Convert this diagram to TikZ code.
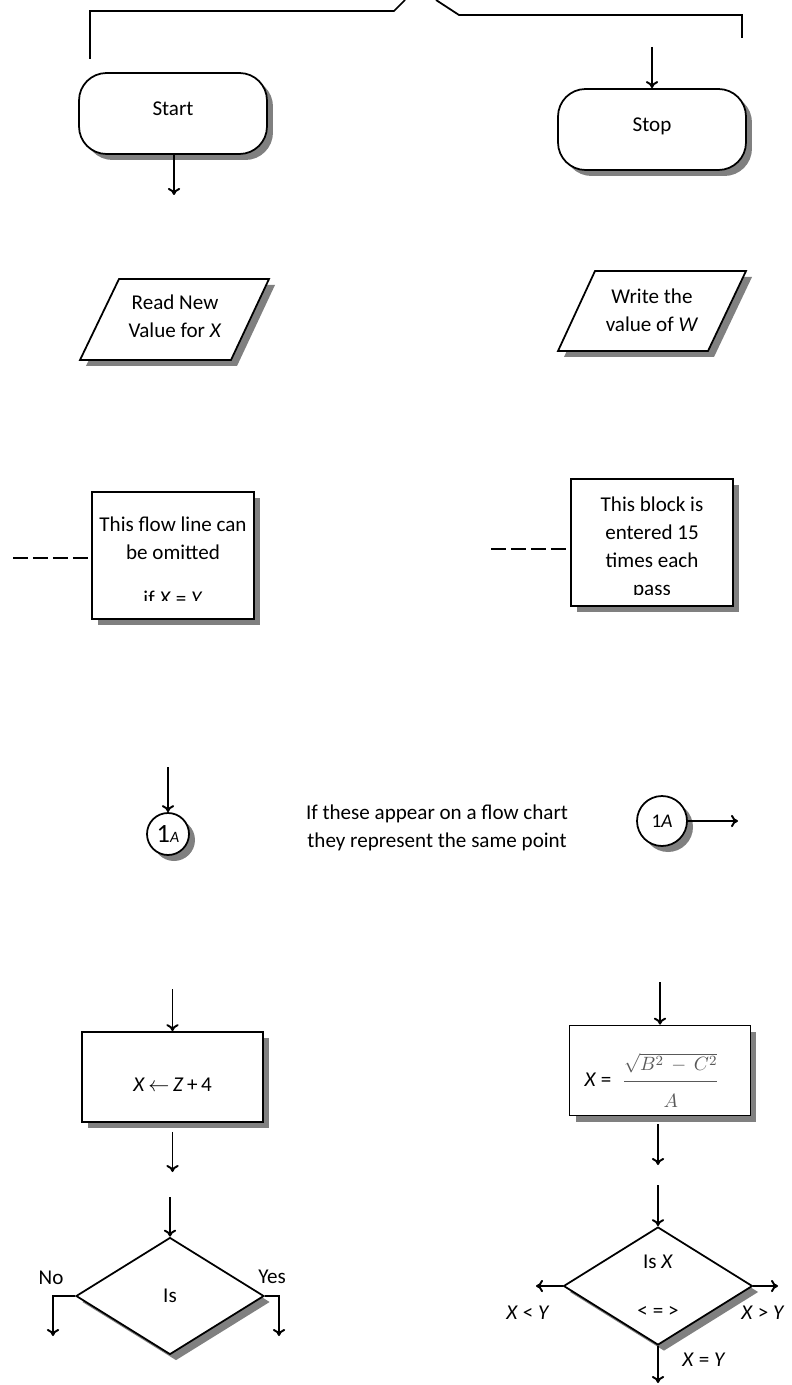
\documentclass[tikz,border=0pt]{standalone}
\usepackage{fontspec}
\setmainfont{Carlito}
\usetikzlibrary{shapes.geometric,shadows,arrows.meta}

\tikzset{
	boxshadow/.style={drop shadow={shadow xshift=0.12cm, shadow yshift=-0.12cm, opacity=1, fill=black!50}},
	terminal/.style={draw, fill=white, line width=1pt, rounded corners=0.55cm, minimum width=3.76cm, minimum height=1.62cm, text height=8pt, text depth=5.8pt, boxshadow},
	io/.style={draw, fill=white, line width=1pt, boxshadow},
	process/.style={rectangle, draw, fill=white, line width=1pt, minimum width=3.62cm, minimum height=1.8cm, boxshadow},
	note/.style={rectangle, draw, fill=white, line width=1pt, minimum width=3.24cm, minimum height=2.54cm, boxshadow},
	connectcirc/.style={circle, draw, fill=white, line width=1pt, inner sep=0pt, boxshadow},
	decision/.style={diamond, draw, fill=white, line width=1pt, inner sep=0pt, minimum width=3.76cm, minimum height=2.34cm, align=center, boxshadow},
	flow/.style={line width=1.1pt, -{To[length=4pt, width=7pt]}},
	dashflow/.style={line width=1.1pt, dash pattern=on 0.3cm off 0.1cm},
}

\begin{document}
\begin{tikzpicture}[x=0.02cm, y=-0.02cm, font=\fontsize{12}{16}\selectfont]
		%%%%% START %%%%%
		\useasboundingbox (0,0) rectangle (791,1385);
		
		\draw[line width=1pt] (90,59) -- (90,11) -- (394,11) -- (405,0);
		\draw[line width=1pt] (436,0) -- (459,15) -- (742,15) -- (742,38);
		
		\node[terminal] (start) at (173,113.5) {Start};
		\coordinate (startend) at (174,195);
		\draw[flow] (start.south -| startend) -- (startend);
		
		\node[terminal] (stop) at (652,129.5) {Stop};
		\coordinate (stopin) at (652,47);
		\draw[flow] (stopin) -- (stop.north);
		
		\draw[io] (80,360) -- (119,279) -- (269,279) -- (231,360) -- cycle;
		\node[align=center] (read) at (175,316) {Read New\\Value for \textit{X}};
		
		\draw[io] (558,351) -- (595,271) -- (746,271) -- (708,351) -- cycle;
		\node[align=center] (write) at (652,310) {Write the\\value of \textit{W}};
		
		\node[note] (omitbox) at (173,555.5) {};
		\begin{scope}
			\clip (92,492) rectangle (254,600);
			\node[align=center] (omittext) at (173,561) {This flow line can\\be omitted\\[10pt]if \textit{X} = \textit{Y}};
		\end{scope}
		\coordinate (omitdash) at (13,558);
		\draw[dashflow] (omitdash) -- (omitdash -| omitbox.west);
		
		\node[note] (blockbox) at (652,542.5) {};
		\begin{scope}
			\clip (571,479) rectangle (733,594);
			\node[align=center] (blocktext) at (652,548) {This block is\\entered 15\\times each\\pass};
		\end{scope}
		\coordinate (blockdash) at (491,549);
		\draw[dashflow] (blockdash) -- (blockdash -| blockbox.west);
		
		\node[connectcirc, minimum size=0.84cm] (pointin) at (168,834) {{\fontsize{15}{18}\selectfont 1}{\fontsize{9}{11}\selectfont\itshape A}};
		\coordinate (pointinstart) at (168,767);
		\draw[flow] (pointinstart) -- (pointin.north);
		
		\node[align=center] (samenote) at (437,828) {If these appear on a flow chart\\they represent the same point};
		
		\node[connectcirc, minimum size=1cm, font=\fontsize{11}{13}\selectfont] (pointout) at (662,821) {1\textit{A}};
		\coordinate (pointoutend) at (738,821);
		\draw[flow] (pointout.east) -- (pointoutend);
		
		\node[process, text height=17pt, text depth=0pt] (assign) at (172.5,1077) {\textit{X}\,$\leftarrow$\,\textit{Z}\,+\,4};
		\coordinate (assignin) at (172.5,989);
		\coordinate (assignout) at (172.5,1172);
		\draw[flow] (assignin) -- (assign.north);
		\draw[flow] ([yshift=-0.18cm]assign.south) -- (assignout);
		
		\node[process] (formula) at (660,1070.5) {};
		\node (formulatext) at (652,1080) {\textit{X} =\enspace{\color{black!65}\fontsize{11}{13}\selectfont$\displaystyle\frac{\sqrt{B^{2}\,-\,C^{2}}\rule[-5pt]{0pt}{0pt}}{\rule{0pt}{13pt}A}$}};
		\coordinate (formulain) at (660,982);
		\coordinate (formulaout) at (658,1165);
		\draw[flow] (formulain) -- (formula.north);
		\draw[flow] ([yshift=-0.16cm]formula.south -| formulaout) -- (formulaout);
		
		\node[decision] (isyes) at (170,1296) {Is};
		\coordinate (isyesin) at (170,1197);
		\coordinate (noend) at (53,1336);
		\coordinate (yesend) at (279,1336);
		\draw[flow] (isyesin) -- (isyes.north);
		\draw[flow] (isyes.west) -| (noend);
		\draw[flow] (isyes.east) -| (yesend);
		\node (nolabel) at (51,1278) {No};
		\node (yeslabel) at (272,1277) {Yes};
		
		\node[decision, minimum width=3.78cm, minimum height=2.36cm] (compare) at (658,1286) {Is \textit{X}\\[12pt]< = >};
		\coordinate (comparein) at (658,1185);
		\coordinate (lessend) at (536,1286);
		\coordinate (moreend) at (778,1286);
		\coordinate (sameend) at (658,1383);
		\draw[flow] (comparein) -- (compare.north);
		\draw[flow] (compare.west) -- (lessend);
		\draw[flow] (compare.east) -- (moreend);
		\draw[flow] (compare.south) -- (sameend);
		\node (lesslabel) at (528,1313) {\textit{X} < \textit{Y}};
		\node (morelabel) at (763,1313) {\textit{X} > \textit{Y}};
		\node (samelabel) at (704,1360) {\textit{X} = \textit{Y}};
		
		%%%%% END %%%%%
	\end{tikzpicture}
\end{document}
